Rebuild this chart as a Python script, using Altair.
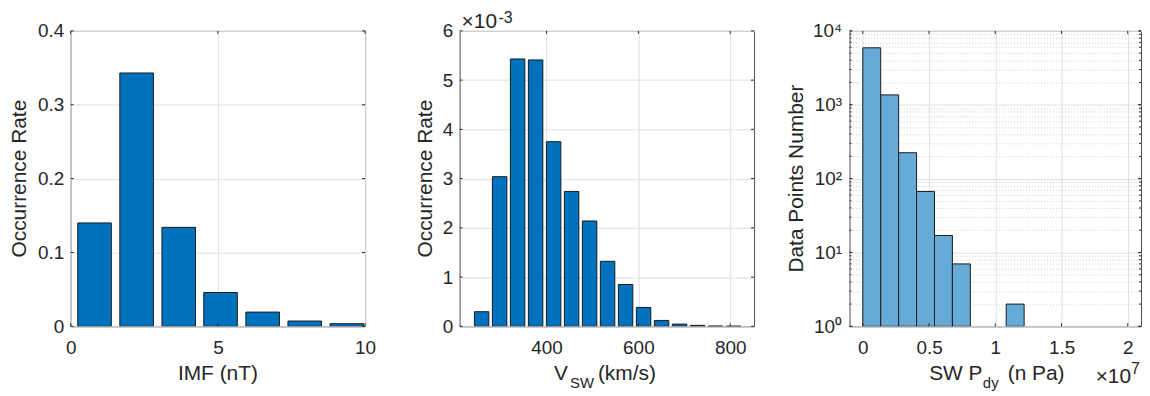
import altair as alt
import pandas as pd

# ---------------- data ----------------
# Panel 1: IMF histogram (bar centres, occurrence rate)
imf_centers = [0.81, 2.24, 3.67, 5.09, 6.52, 7.95, 9.38]
imf_rates = [0.140, 0.343, 0.134, 0.0458, 0.0193, 0.0072, 0.0036]
imf_bar_width = 1.14

# Panel 2: solar wind speed histogram (rates in units of 1e-3)
vsw_centers = [258.5, 297.7, 336.9, 376.1, 415.3, 454.5, 493.7, 532.9,
               572.1, 611.3, 650.5, 689.7, 728.9, 768.1, 807.3]
vsw_rates = [0.297, 3.04, 5.43, 5.41, 3.75, 2.74, 2.14, 1.32,
             0.85, 0.384, 0.12, 0.045, 0.02, 0.006, 0.003]
vsw_bar_width = 31.5

# Panel 3: dynamic pressure histogram (edges in units of 1e7)
pdy_left = [0.0, 0.1353, 0.2706, 0.4059, 0.5412, 0.6765, 0.8118, 0.9471, 1.0824]
pdy_right = [0.1353, 0.2706, 0.4059, 0.5412, 0.6765, 0.8118, 0.9471, 1.0824, 1.2177]
pdy_counts = [5900, 1360, 224, 67, 17, 7, 0, 0, 2]

y1_ticks = [0, 0.1, 0.2, 0.3, 0.4]
x1_ticks = [0, 5, 10]
y2_ticks = [0, 1, 2, 3, 4, 5, 6]
x2_ticks = [400, 600, 800]
x3_ticks = [0, 0.5, 1, 1.5, 2]
y3_major = [1, 10, 100, 1000, 10000]
y3_ticks = [1, 2, 3, 4, 5, 6, 7, 8, 9, 10, 20, 30, 40, 50, 60, 70, 80, 90,
            100, 200, 300, 400, 500, 600, 700, 800, 900,
            1000, 2000, 3000, 4000, 5000, 6000, 7000, 8000, 9000, 10000]

# ---------------- style ----------------
FONT = "Liberation Sans"
TXT = "#262626"
GRID = "#dfdfdf"
LBL = 19
TTL = 21
SUB = 15
W, H = 296, 297
W3 = 293
TOP = -21


def axis(values, fmt="d", **kw):
    opts = dict(values=values, format=fmt, ticks=False, domain=False, title=None,
                labelFont=FONT, labelFontSize=LBL, labelColor=TXT,
                labelFlush=False, labelOverlap=False,
                gridColor=GRID, gridWidth=1, labelPadding=7)
    opts.update(kw)
    return alt.Axis(**opts)


def txt(label, size=TTL, align="left", baseline="alphabetic", angle=0):
    return alt.Chart(pd.DataFrame({"t": [label]})).mark_text(
        font=FONT, fontSize=size, color=TXT, align=align,
        baseline=baseline, angle=angle)


def place(layer, x, y):
    return layer.encode(x=alt.value(x), y=alt.value(y), text="t:N")


def frame(left, right):
    # invisible rule fixing each panel's outer extent (layout only)
    return alt.Chart(pd.DataFrame({"a": [0]})).mark_rule(
        strokeOpacity=0, opacity=0, strokeWidth=0.01).encode(
        x=alt.value(left), x2=alt.value(right), y=alt.value(TOP))


def ytitle(label, x):
    return place(txt(label, align="center", baseline="middle", angle=270), x, H / 2)


def xticks(values, scale, ax, width, length=3):
    d = pd.DataFrame({"v": values})
    base = alt.Chart(d).mark_rule(color=TXT, strokeWidth=1)
    enc = alt.X("v:Q", scale=scale, axis=ax)
    return [base.encode(x=enc, y=alt.value(H), y2=alt.value(H - length)),
            base.encode(x=enc, y=alt.value(0), y2=alt.value(length))]


def yticks(values, scale, ax, width, length=3):
    d = pd.DataFrame({"v": values})
    base = alt.Chart(d).mark_rule(color=TXT, strokeWidth=1)
    enc = alt.Y("v:Q", scale=scale, axis=ax)
    return [base.encode(y=enc, x=alt.value(0), x2=alt.value(length)),
            base.encode(y=enc, x=alt.value(width), x2=alt.value(width - length))]


# ---------------- panel 1 ----------------
df1 = pd.DataFrame({"c": imf_centers, "r": imf_rates})
df1["x0"] = df1["c"] - imf_bar_width / 2
df1["x1"] = df1["c"] + imf_bar_width / 2
df1["z"] = 0.0

xs1 = alt.Scale(domain=[0, 10], nice=False, zero=False)
ys1 = alt.Scale(domain=[0, 0.4], nice=False)
xa1 = axis(x1_ticks, labelPadding=12)
ya1 = axis(y1_ticks, fmt=".1~f")
bars1 = alt.Chart(df1).mark_bar(color="#0072BD", stroke="#1a1a1a",
                                strokeWidth=1, clip=True).encode(
    x=alt.X("x0:Q", scale=xs1, axis=xa1), x2="x1:Q",
    y=alt.Y("r:Q", scale=ys1, axis=ya1), y2="z:Q",
)
p1 = alt.layer(
    bars1, *xticks(x1_ticks, xs1, xa1, W), *yticks(y1_ticks, ys1, ya1, W),
    frame(-61, W + 20),
    ytitle("Occurrence Rate", -51),
    place(txt("IMF (nT)", align="center"), W / 2, 351),
).properties(width=W, height=H)

# ---------------- panel 2 ----------------
df2 = pd.DataFrame({"c": vsw_centers, "r": vsw_rates})
df2["x0"] = df2["c"] - vsw_bar_width / 2
df2["x1"] = df2["c"] + vsw_bar_width / 2
df2["z"] = 0.0

xs2 = alt.Scale(domain=[210.5, 852], nice=False, zero=False)
ys2 = alt.Scale(domain=[0, 6], nice=False)
xa2 = axis(x2_ticks, labelPadding=12)
ya2 = axis(y2_ticks)
bars2 = alt.Chart(df2).mark_bar(color="#0072BD", stroke="#1a1a1a",
                                strokeWidth=1, clip=True).encode(
    x=alt.X("x0:Q", scale=xs2, axis=xa2), x2="x1:Q",
    y=alt.Y("r:Q", scale=ys2, axis=ya2), y2="z:Q",
)
p2 = alt.layer(
    bars2, *xticks(x2_ticks, xs2, xa2, W), *yticks(y2_ticks, ys2, ya2, W),
    frame(-73, W + 20),
    ytitle("Occurrence Rate", -34),
    place(txt("×10", size=21), 2, -3),
    place(txt("-3", size=16, baseline="top"), 39, TOP),
    place(txt("V"), 95, 351),
    place(txt("SW", size=SUB), 111, 359),
    place(txt("(km/s)"), 139, 351),
).properties(width=W, height=H)

# ---------------- panel 3 ----------------
df3 = pd.DataFrame({"x0": pdy_left, "x1": pdy_right, "n": pdy_counts})
df3["base"] = 1.0

major = "[1,10,100,1000,10000]"
minor_test = f"indexof({major}, datum.value) < 0"
xs3 = alt.Scale(domain=[-0.1, 2.1], nice=False, zero=False)
ys3 = alt.Scale(type="log", domain=[1, 10000], nice=False)
xa3 = axis(x3_ticks, fmt=".1~f", labelPadding=12)
ya3 = axis(y3_ticks, labelPadding=8,
           labelExpr="datum.value == 1 ? '10⁰' : datum.value == 10 ? '10¹' : "
                     "datum.value == 100 ? '10²' : datum.value == 1000 ? '10³' : "
                     "datum.value == 10000 ? '10⁴' : ''",
           gridDash={"condition": {"test": minor_test, "value": [1, 2]}, "value": []},
           gridColor={"condition": {"test": minor_test, "value": "#cccccc"}, "value": GRID})
bars3 = alt.Chart(df3).transform_filter("datum.n > 0").mark_bar(
    color="#66aad7", stroke="#1a1a1a", strokeWidth=1, clip=True).encode(
    x=alt.X("x0:Q", scale=xs3, axis=xa3), x2="x1:Q",
    y=alt.Y("n:Q", scale=ys3, axis=ya3), y2="base:Q",
)
p3 = alt.layer(
    bars3, *xticks(x3_ticks, xs3, xa3, W3),
    *yticks(y3_major, ys3, ya3, W3),
    *yticks(y3_ticks, ys3, ya3, W3, length=2),
    frame(-74, W3),
    ytitle("Data Points Number", -53),
    place(txt("SW P"), 80, 351),
    place(txt("dy", size=SUB), 134, 359),
    place(txt("(n Pa)"), 159, 351),
    place(txt("×10", size=21, align="right"), 283, 354),
    place(txt("7", size=16), 283, 345),
).properties(width=W3, height=H)

chart = alt.hconcat(p1, p2, p3, spacing=0).configure_view(
    stroke="#4d4d4d", strokeWidth=1
).properties(padding=0, background="white")

chart.save("out.html", embed_options={"renderer": "svg", "actions": False})
